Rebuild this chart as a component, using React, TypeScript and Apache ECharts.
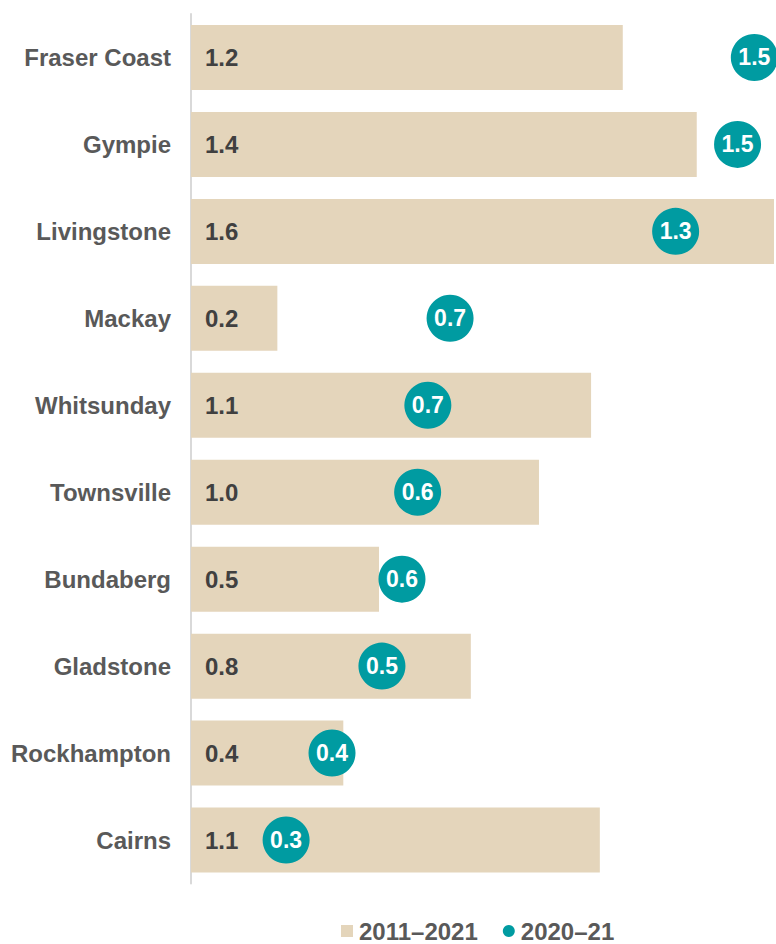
import React, { useEffect, useRef } from "react";
import * as echarts from "echarts";

// Regions, top to bottom
const regions = [
  "Fraser Coast",
  "Gympie",
  "Livingstone",
  "Mackay",
  "Whitsunday",
  "Townsville",
  "Bundaberg",
  "Gladstone",
  "Rockhampton",
  "Cairns",
];

// Average annual growth, 2011–2021 (%)
const decadeGrowth = [1.185, 1.388, 1.6, 0.237, 1.098, 0.955, 0.516, 0.768, 0.418, 1.122];

// Growth, 2020–21 (%)
const yearGrowth = [1.546, 1.5, 1.33, 0.711, 0.65, 0.622, 0.579, 0.524, 0.387, 0.261];

const seriesNames = ["2011–2021", "2020–21"];

const BAR_COLOR = "#E4D5BB";
const DOT_COLOR = "#009BA1";
const TEXT_GREY = "#595959";
const FONT = "Arial, 'Liberation Sans', Helvetica, sans-serif";

export default function App() {
  const ref = useRef<HTMLDivElement>(null);

  useEffect(() => {
    if (!ref.current) return;
    const chart = echarts.init(ref.current, null, { renderer: "svg" });
    chart.setOption({
      animation: false,
      backgroundColor: "#ffffff",
      textStyle: { fontFamily: FONT },
      grid: { left: 191, right: 2, top: 14, bottom: 60.5, containLabel: false },
      legend: {
        left: 341,
        top: 919,
        padding: 0,
        itemWidth: 12,
        itemHeight: 12,
        itemGap: 25,
        selectedMode: false,
        textStyle: {
          fontFamily: FONT,
          fontSize: 24,
          lineHeight: 24,
          fontWeight: "bold",
          color: TEXT_GREY,
          padding: [0, 0, 0, 1],
        },
        data: [
          { name: seriesNames[0], icon: "rect" },
          { name: seriesNames[1], icon: "circle" },
        ],
      },
      xAxis: {
        type: "value",
        min: 0,
        max: 1.6,
        show: true,
        axisLine: { show: false },
        axisTick: { show: false },
        axisLabel: { show: false },
        splitLine: { show: false },
      },
      yAxis: {
        type: "category",
        data: regions,
        inverse: true,
        axisLine: { show: true, lineStyle: { color: "#D9D9D9", width: 2 } },
        axisTick: { show: false },
        axisLabel: {
          margin: 20,
          fontFamily: FONT,
          fontSize: 24,
          fontWeight: "bold",
          color: TEXT_GREY,
        },
      },
      series: [
        {
          name: seriesNames[0],
          type: "bar",
          data: decadeGrowth,
          barWidth: 65,
          itemStyle: { color: BAR_COLOR },
          label: {
            show: true,
            position: "insideLeft",
            distance: 14,
            fontFamily: FONT,
            fontSize: 24,
            fontWeight: "bold",
            color: "#404040",
            formatter: (p: any) => Number(p.value).toFixed(1),
          },
          z: 2,
        },
        {
          name: seriesNames[1],
          type: "scatter",
          data: yearGrowth.map((v, i) => [v, regions[i]]),
          symbol: "circle",
          symbolSize: 47,
          itemStyle: { color: DOT_COLOR, opacity: 1 },
          label: {
            show: true,
            position: "inside",
            fontFamily: FONT,
            fontSize: 23,
            fontWeight: "bold",
            color: "#ffffff",
            formatter: (p: any) => Number(p.value[0]).toFixed(1),
          },
          z: 3,
        },
      ],
    });
    return () => chart.dispose();
  }, []);

  return (
    <div
      ref={ref}
      style={{ position: "absolute", left: 0, top: 0, width: 776, height: 944 }}
    />
  );
}
